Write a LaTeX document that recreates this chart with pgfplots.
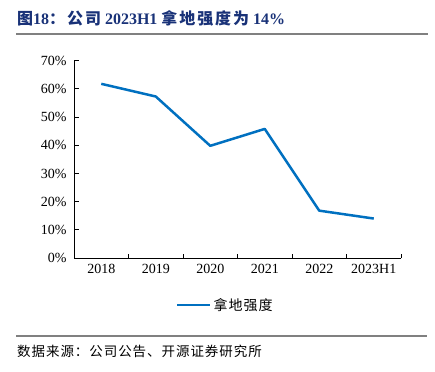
\documentclass[border=0pt]{standalone}
\usepackage{fontspec}
\setmainfont{Liberation Serif}
\newfontfamily\cjk{Noto Sans CJK SC}
\newfontfamily\cjksp[LetterSpace=7]{Noto Sans CJK SC}
\newfontfamily\cjkti[LetterSpace=12]{Noto Sans CJK SC}
\usepackage{pgfplots}
\pgfplotsset{compat=1.18}
\definecolor{titleblue}{RGB}{25,50,120}
\definecolor{lineblue}{RGB}{0,112,192}
\definecolor{rulegray}{RGB}{128,128,128}
\begin{document}
\begin{tikzpicture}
\path (0pt,0pt) rectangle (435pt,-371pt);
\node[anchor=base west, inner sep=0pt, text=titleblue, font=\fontsize{16}{18}\selectfont\bfseries] at (17pt,-25pt) {{\cjkti 图}18{\cjkti ：公司} 2023H1 {\cjkti 拿地强度为} 14\%};
\draw[rulegray, line width=1.5pt] (16pt,-34pt) -- (428pt,-34pt);
\draw[rulegray, line width=1.2pt] (16pt,-336pt) -- (427pt,-336pt);
\node[anchor=base west, inner sep=0pt, font=\fontsize{13.5}{16}\selectfont\cjksp] at (17pt,-356pt) {数据来源：公司公告、开源证券研究所};
\begin{axis}[
  at={(74pt,-258pt)}, anchor=south west,
  scale only axis, width=327pt, height=197.3pt,
  xmin=-0.5, xmax=5.5, ymin=0, ymax=70,
  axis lines*=left,
  axis line style={line width=0.8pt},
  xtick={-0.5,0.5,...,5.5}, xticklabels={},
  extra x ticks={0,1,2,3,4,5},
  extra x tick labels={2018,2019,2020,2021,2022,2023H1},
  extra x tick style={major tick length=0pt},
  ytick={0,10,...,70},
  yticklabel={\pgfmathprintnumber{\tick}\%},
  /pgf/number format/assume math mode=true,
  tick style={black, line width=0.8pt},
  major tick length=4.5pt,
  tick align=inside,
  ticklabel style={font=\fontsize{14}{16}\selectfont},
  xticklabel style={yshift=-3pt},
  yticklabel style={xshift=-4pt},
  legend style={at={(0.463,-0.239)}, anchor=center, draw=none, fill=none,
    font=\fontsize{14}{16}\selectfont\cjksp, inner sep=0pt},
  legend image code/.code={\draw[#1] (0pt,0pt) -- (33pt,0pt);},
  clip=false,
]
\addplot[lineblue, line width=2.5pt, line join=round] coordinates {
  (0,61.8) (1,57.3) (2,39.8) (3,45.8) (4,16.8) (5,14.0)
};
\addlegendentry{拿地强度}
\end{axis}
\end{tikzpicture}
\end{document}
